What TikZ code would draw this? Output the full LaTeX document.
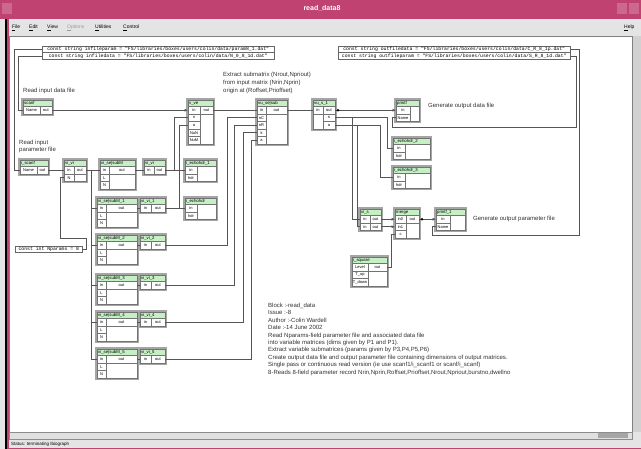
\documentclass[tikz,border=0pt]{standalone}
\usepackage{fontspec}
\setmainfont{Liberation Sans}
\newfontfamily\cmono{Liberation Mono}
\usetikzlibrary{arrows.meta}
\definecolor{titlepink}{RGB}{192,66,112}
\definecolor{hdrg}{RGB}{196,240,196}
\definecolor{menug}{RGB}{228,228,228}
\definecolor{wirec}{RGB}{85,85,85}
\definecolor{frameg}{RGB}{165,165,165}
\newcommand\blk[6]{%
  \fill[frameg] ({#2-1.8},{#4-1.8}) rectangle ({#3+1.8},{#4+6.5+#5*7.5+1.8});
  \fill[white] (#2,#4) rectangle (#3,{#4+6.5+#5*7.5});
  \fill[hdrg] (#2,#4) rectangle (#3,{#4+6.5});
  \draw[cell] (#2,#4) rectangle (#3,{#4+6.5+#5*7.5});
  \draw[cell] (#2,{#4+6.5}) -- (#3,{#4+6.5});
  \node[ttl] (#1) at ({#2+1},{#4+3.4}) {#6};
}
\newcommand\cel[5]{%
  \draw[cell] (#1,{#3+6.5+(#4-1)*7.5}) rectangle (#2,{#3+6.5+#4*7.5});
  \node[lbl] at ({(#1+#2)/2},{#3+6.5+(#4-0.5)*7.5}) {#5};
}
\begin{document}
\begin{tikzpicture}[x=1pt,y=-1pt,
  wire/.style={draw=wirec,line width=0.6pt},
  arr/.style={wire,-{Latex[length=3.5pt,width=3pt]}},
  lbl/.style={font=\fontsize{4}{4}\selectfont,inner sep=0pt},
  ttl/.style={font=\fontsize{4.3}{4.3}\selectfont,inner sep=0pt,anchor=west},
  cell/.style={draw=black!55,line width=0.35pt},
  note/.style={font=\fontsize{6}{7.4}\selectfont,inner sep=0pt,align=left,anchor=north west,text=black!80},
  cbox/.style={draw=black!60,line width=0.5pt,fill=white,inner sep=0pt,minimum height=6.5pt,minimum width=232pt,font=\cmono\fontsize{4.8}{5}\selectfont,anchor=north west},
  menu/.style={font=\fontsize{5}{5}\selectfont,inner sep=0pt,anchor=west},
  dot/.style={fill=black,inner sep=0pt,minimum size=2.6pt,circle}
]
\useasboundingbox (0,0) rectangle (641,449);
% ---------- window chrome
\fill[menug] (0,0) rectangle (641,449);
\fill[titlepink] (0,0) rectangle (641,19);
\node[font=\bfseries\fontsize{7}{7}\selectfont,text=white] (title) at (322,8.5) {read\_data8};
\fill[titlepink!80!white] (2,3) rectangle (12,14);
\fill[titlepink!80!white] (617,3) rectangle (627,14);
\fill[titlepink!80!white] (629,3) rectangle (639,14);
\node[menu] (mfile) at (12,28) {\underline{F}ile};
\node[menu] (medit) at (29,28) {\underline{E}dit};
\node[menu] (mview) at (47,28) {\underline{V}iew};
\node[menu,text=black!40] (mopt) at (67,28) {\underline{O}ptions};
\node[menu] (mutil) at (95,28) {\underline{U}tilities};
\node[menu] (mctrl) at (123,28) {\underline{C}ontrol};
\node[menu] (mhelp) at (624,28) {\underline{H}elp};
\fill[white] (9,36) rectangle (632,432);
\draw[black!50,line width=0.4pt] (9,36) rectangle (632,432);
\fill[black] (5,19) rectangle (7,449);
\fill[titlepink] (7,19) rectangle (9,449);
\fill[black!18] (632.5,36) rectangle (641,432);
\fill[black!12] (9,432.5) rectangle (632,439);
\fill[black!35] (598,433.5) rectangle (628,438);
\draw[black!45,line width=0.3pt] (9,432.5) rectangle (632,439);
\node[menu,font=\fontsize{4.5}{4.5}\selectfont] (status) at (11,444) {Status: terminating Ibiograph};
\fill[titlepink] (9,448) rectangle (641,449);
% ---------- constants
\node[cbox] (c1) at (42,46) {const string infileparam = "FS/libraries/boxes/users/colin/data/param8\_1.dat"};
\node[cbox] (c2) at (42,52.5) {const string infiledata = "FS/libraries/boxes/users/colin/data/N\_0\_8\_1d.dat"};
\node[cbox] (c3) at (338,46) {const string outfiledata = "FS/libraries/boxes/users/colin/data/C\_R\_8\_1p.dat"};
\node[cbox] (c4) at (338,52.5) {const string outfileparam = "FS/libraries/boxes/users/colin/data/S\_R\_8\_1d.dat"};
\node[cbox,minimum width=67pt] (c5) at (15,246) {const int Nparams = 8};
% ---------- texts
\node[note] (t1) at (23,88) {Read input data file};
\node[note] (t2) at (19,139.5) {Read input\\parameter file};
\node[note,font=\fontsize{6}{8}\selectfont] (t3) at (223,72) {Extract submatrix (Nrout,Npriout)\\from input matrix (Nrin,Nprin)\\origin at (Roffset,Prioffset)};
\node[note,anchor=west] (t4) at (428,106) {Generate output data file};
\node[note,anchor=west] (t5) at (473,219) {Generate output parameter file};
\node[note] (t6) at (268,303) {Block :-read\_data\\Issue :-8\\Author :-Colin Wardell\\Date :-14 June 2002\\Read Nparams-field parameter file and associated data file\\into variable matrices (dims given by P1 and P1).\\Extract variable submatrices (params given by P3,P4,P5,P6)\\Create output data file and output parameter file containing dimensions of output matrices.\\Single pass or continuous read version (ie use scanf1/i\_scanf1 or scanf/i\_scanf)\\8-Reads 8-field parameter record Nrin,Nprin,Roffset,Prioffset,Nrout,Npriout,burstno,dwellno};
% ---------- blocks
\blk{scanf}{23}{52}{100}{1}{scanf}
\cel{23}{40}{100}{1}{Name}\cel{40}{52}{100}{1}{out}
\coordinate (scanfN) at (23,110.25); \coordinate (scanfO) at (52,110.25);
\blk{iscanf}{20}{48}{160}{1}{i\_scanf}
\cel{20}{37}{160}{1}{Name}\cel{37}{48}{160}{1}{out}
\coordinate (iscN) at (20,170.25); \coordinate (iscO) at (48,170.25);
\blk{vve}{188}{213}{100}{5}{v\_ve}
\cel{188}{200}{100}{1}{in}\cel{200}{213}{100}{1}{out}
\cel{188}{200}{100}{2}{n}\cel{188}{200}{100}{3}{a}\cel{188}{200}{100}{4}{NuN}\cel{188}{200}{100}{5}{NuM}
\coordinate (vveIn) at (188,110.25); \coordinate (vveN) at (188,117.75);
\coordinate (vveA) at (188,125.25); \coordinate (vveO) at (213,110.25);
\blk{vse}{257}{287}{100}{5}{vu\_se|sub}
\cel{257}{266}{100}{1}{in}\cel{266}{287}{100}{1}{out}
\cel{257}{266}{100}{2}{nC}\cel{257}{266}{100}{3}{nR}\cel{257}{266}{100}{4}{k}\cel{257}{266}{100}{5}{a}
\coordinate (vseIn) at (257,110.25); \coordinate (vseC) at (257,117.75);
\coordinate (vseR) at (257,125.25); \coordinate (vseK) at (257,132.75);
\coordinate (vseA) at (257,140.25); \coordinate (vseO) at (287,110.25);
\blk{vs1}{313}{335}{100}{3}{vu\_s\_1}
\cel{313}{323}{100}{1}{in}\cel{323}{335}{100}{1}{out}\cel{323}{335}{100}{2}{n}\cel{323}{335}{100}{3}{a}
\coordinate (vs1In) at (313,110.25); \coordinate (vs1O) at (335,110.25);
\coordinate (vs1N) at (335,117.75); \coordinate (vs1A) at (335,125.25);
\blk{pf}{396}{419}{100}{2}{printf}
\cel{396}{410}{100}{1}{in}\cel{396}{410}{100}{2}{Name}
\coordinate (pfIn) at (396,110.25); \coordinate (pfName) at (396,117.75);
\blk{ech1}{185}{216}{160}{2}{i\_echohdr\_1}
\cel{185}{197}{160}{1}{in}\cel{185}{197}{160}{2}{hdr}
\coordinate (e1In) at (185,170.25);
\blk{ech0}{185}{216}{198}{2}{i\_echohdr}
\cel{185}{197}{198}{1}{in}\cel{185}{197}{198}{2}{hdr}
\coordinate (e0In) at (185,208.25);
\blk{ech2}{393}{430}{138}{2}{i\_echohdr\_2}
\cel{393}{405}{138}{1}{in}\cel{393}{405}{138}{2}{hdr}
\coordinate (e2In) at (393,148.25);
\blk{ech3}{393}{430}{167}{2}{i\_echohdr\_3}
\cel{393}{405}{167}{1}{in}\cel{393}{405}{167}{2}{hdr}
\coordinate (e3In) at (393,177.25);
\blk{vi}{64}{86}{160}{2}{vi\_vi}
\cel{64}{74}{160}{1}{in}\cel{74}{86}{160}{1}{out}\cel{64}{74}{160}{2}{N}
\coordinate (viIn) at (64,170.25); \coordinate (viN) at (64,177.75); \coordinate (viO) at (86,170.25);
\blk{sm}{100}{135}{160}{3}{vi\_se|subM}
\cel{100}{109}{160}{1}{in}\cel{109}{135}{160}{1}{out}\cel{100}{109}{160}{2}{L}\cel{100}{109}{160}{3}{N}
\coordinate (smIn) at (100,170.25); \coordinate (smO) at (135,170.25);
\blk{vb}{144}{165}{160}{1}{vi\_vi}
\cel{144}{154}{160}{1}{in}\cel{154}{165}{160}{1}{out}
\coordinate (vbIn) at (144,170.25); \coordinate (vbO) at (165,170.25);
\foreach \k/\t in {1/198,2/235,3/275,4/312,5/349}{
  \blk{sm\k}{97}{137}{\t}{3}{vi\_se|subM\_\k}
  \cel{97}{106}{\t}{1}{in}\cel{106}{137}{\t}{1}{out}\cel{97}{106}{\t}{2}{L}\cel{97}{106}{\t}{3}{N}
  \coordinate (sm\k In) at (97,\t+10.25); \coordinate (sm\k O) at (137,\t+10.25);
  \blk{vv\k}{140}{165}{\t}{1}{vi\_vi\_\k}
  \cel{140}{151}{\t}{1}{in}\cel{151}{165}{\t}{1}{out}
  \coordinate (vv\k In) at (140,\t+10.25); \coordinate (vv\k O) at (165,\t+10.25);
}
\blk{vis}{360}{381}{209}{2}{vi\_s}
\cel{360}{370}{209}{1}{in}\cel{370}{381}{209}{1}{out}\cel{360}{370}{209}{2}{in}\cel{370}{381}{209}{2}{out}
\coordinate (vsIn0) at (360,219.25); \coordinate (vsIn1) at (360,226.75);
\coordinate (vsO0) at (381,219.25); \coordinate (vsO1) at (381,226.75);
\blk{mrg}{395}{419}{209}{3}{merge}
\cel{395}{406}{209}{1}{in0}\cel{406}{419}{209}{1}{out}\cel{395}{406}{209}{2}{in1}\cel{395}{406}{209}{3}{c}
\coordinate (mIn0) at (395,219.25); \coordinate (mIn1) at (395,226.75);
\coordinate (mC) at (395,234.25); \coordinate (mO) at (419,219.25);
\blk{pf1}{436}{465}{209}{2}{printf\_1}
\cel{436}{450}{209}{1}{in}\cel{436}{450}{209}{2}{Name}
\coordinate (p1In) at (436,219.25); \coordinate (p1Name) at (436,226.75);
\blk{isq}{352}{387}{257}{3}{i\_square}
\cel{352}{368}{257}{1}{Level}\cel{368}{387}{257}{1}{out}\cel{352}{368}{257}{2}{T\_up}\cel{352}{368}{257}{3}{T\_down}
\coordinate (isqO) at (387,267.25);
% ---------- wires
\draw[wire] (c1.west) -| (14,170.25) -- (iscN);
\draw[wire] (c2.west) -| (18,110.25) -- (scanfN);
\draw[arr] (scanfO) -- (vveIn);
\draw[wire] (iscO) -- (viIn);
\draw[wire] (c5.east) -- ++(4,0) |- (60,238) |- (viN);
\draw[wire] (viO) -- (smIn);
\foreach \k in {1,...,5}{\draw[wire] (91,170.25) |- (sm\k In);}
\draw[wire] (smO) -- (vbIn);
\draw[wire] (vbO) -- (e1In);
\draw[wire] (174,170.25) |- (vveN);
\draw[wire] (sm1O) -- (vv1In);
\foreach \k in {2,...,5}{\draw[wire] (sm\k O) -- (vv\k In);}
\draw[wire] (vv1O) -- (e0In);
\draw[wire] (179,208.25) |- (vveA);
\draw[wire] (vv2O) -| (227,117.75) -- (vseC);
\draw[wire] (vv3O) -| (234,125.25) -- (vseR);
\draw[wire] (vv4O) -| (243,132.75) -- (vseK);
\draw[wire] (vv5O) -| (251,140.25) -- (vseA);
\draw[wire] (vveO) -- (vseIn);
\draw[wire] (vseO) -- (vs1In);
\draw[arr] (vs1O) -- (pfIn);
\node[dot] (j1) at (338,110.25) {};
\draw[wire] (vs1N) -| (352,219.25) -- (vsIn0);
\draw[wire] (352,117.75) -| (387,148.25) -- (e2In);
\draw[wire] (vs1A) -| (357,226.75) -- (vsIn1);
\draw[wire] (357,125.25) -| (380,177.25) -- (e3In);
\draw[arr] (vsO0) -- (mIn0);
\draw[arr] (vsO1) -- (mIn1);
\draw[arr] (mO) -- (p1In);
\node[dot] (j2) at (422,219.25) {};
\draw[wire] (isqO) -| (391,234.25) -- (mC);
\draw[wire] (c3.east) -| (579,235) -| (432,226.75) -- (p1Name);
\draw[wire] (c4.east) -| (576,127) -| (392,117.75) -- (pfName);
\end{tikzpicture}
\end{document}
